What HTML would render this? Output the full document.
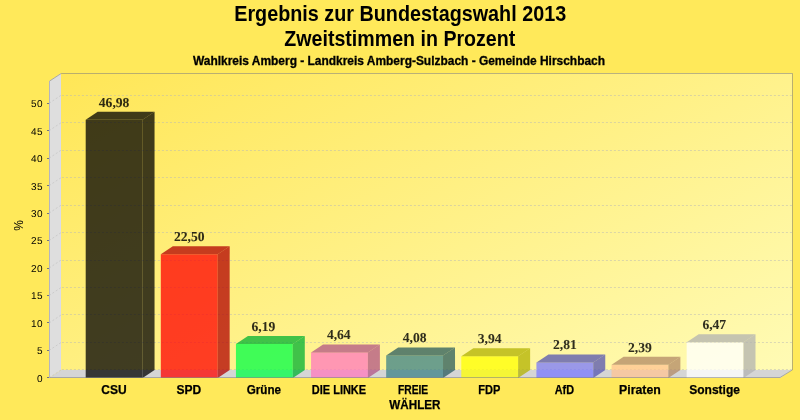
<!DOCTYPE html>
<html><head><meta charset="utf-8"><style>
html,body{margin:0;padding:0;background:#FFE95A;}
svg{display:block;will-change:transform;}
</style></head><body>
<svg width="800" height="420" viewBox="0 0 800 420">
<defs><linearGradient id="pg" gradientUnits="userSpaceOnUse" x1="0" y1="0" x2="342.6" y2="665"><stop offset="0" stop-color="#FFE348"/><stop offset="1" stop-color="#FFFDBE"/></linearGradient></defs>
<rect width="800" height="420" fill="#FFE95A"/>
<g font-family="'Liberation Sans', Arial, sans-serif" font-weight="bold" fill="#000" text-anchor="middle">
<text x="400.2" y="20.6" font-size="21.3px" textLength="332" lengthAdjust="spacingAndGlyphs">Ergebnis zur Bundestagswahl 2013</text>
<text x="399.8" y="45.6" font-size="21.3px" textLength="231" lengthAdjust="spacingAndGlyphs">Zweitstimmen in Prozent</text>
<text x="399" y="64.5" font-size="12px" stroke="#000" stroke-width="0.3" textLength="412" lengthAdjust="spacingAndGlyphs">Wahlkreis Amberg - Landkreis Amberg-Sulzbach - Gemeinde Hirschbach</text>
</g>
<polygon points="49.15,377.9 49.15,81.1 61.15,73.1 792.05,73.1 792.05,369.9 780.05,377.9" fill="url(#pg)"/>
<polygon points="49.15,377.9 49.15,81.1 61,73.19999999999999 61,369.9 " fill="#DEDEDE"/>
<polygon points="49.15,377.9 61.15,369.9 792.05,369.9 780.05,377.9" fill="#D5D5D5"/>
<rect x="60" y="81.10" width="1" height="288.80" fill="#DCDCE6"/>
<g stroke="#B8B8B8" stroke-width="1" fill="none" stroke-dasharray="2 2" stroke-opacity="0.5">
<path d="M49.15,377.90 L61.15,369.90"/>
<path d="M61.15,369.5 L792.05,369.5" stroke-dashoffset="3.25"/>
<path d="M49.15,350.43 L61.15,342.43"/>
<path d="M61.15,342.5 L792.05,342.5" stroke-dashoffset="3.25"/>
<path d="M49.15,322.96 L61.15,314.96"/>
<path d="M61.15,314.5 L792.05,314.5" stroke-dashoffset="3.25"/>
<path d="M49.15,295.50 L61.15,287.50"/>
<path d="M61.15,287.5 L792.05,287.5" stroke-dashoffset="3.25"/>
<path d="M49.15,268.03 L61.15,260.03"/>
<path d="M61.15,260.5 L792.05,260.5" stroke-dashoffset="3.25"/>
<path d="M49.15,240.56 L61.15,232.56"/>
<path d="M61.15,232.5 L792.05,232.5" stroke-dashoffset="3.25"/>
<path d="M49.15,213.09 L61.15,205.09"/>
<path d="M61.15,205.5 L792.05,205.5" stroke-dashoffset="3.25"/>
<path d="M49.15,185.63 L61.15,177.63"/>
<path d="M61.15,177.5 L792.05,177.5" stroke-dashoffset="3.25"/>
<path d="M49.15,158.16 L61.15,150.16"/>
<path d="M61.15,150.5 L792.05,150.5" stroke-dashoffset="3.25"/>
<path d="M49.15,130.69 L61.15,122.69"/>
<path d="M61.15,122.5 L792.05,122.5" stroke-dashoffset="3.25"/>
<path d="M49.15,103.22 L61.15,95.22"/>
<path d="M61.15,95.5 L792.05,95.5" stroke-dashoffset="3.25"/>
</g>
<g stroke="#74747E" stroke-width="1">
<line x1="47" y1="377.5" x2="49" y2="377.5"/>
<line x1="47" y1="350.5" x2="49" y2="350.5"/>
<line x1="47" y1="322.5" x2="49" y2="322.5"/>
<line x1="47" y1="295.5" x2="49" y2="295.5"/>
<line x1="47" y1="268.5" x2="49" y2="268.5"/>
<line x1="47" y1="240.5" x2="49" y2="240.5"/>
<line x1="47" y1="213.5" x2="49" y2="213.5"/>
<line x1="47" y1="185.5" x2="49" y2="185.5"/>
<line x1="47" y1="158.5" x2="49" y2="158.5"/>
<line x1="47" y1="130.5" x2="49" y2="130.5"/>
<line x1="47" y1="103.5" x2="49" y2="103.5"/>
</g>
<g font-family="'Liberation Sans', Arial, sans-serif" font-size="10px" fill="#000" text-anchor="end" letter-spacing="0.44" text-rendering="geometricPrecision">
<text x="42.9" y="382">0</text>
<text x="42.9" y="354">5</text>
<text x="42.9" y="327">10</text>
<text x="42.9" y="299">15</text>
<text x="42.9" y="272">20</text>
<text x="42.9" y="244">25</text>
<text x="42.9" y="217">30</text>
<text x="42.9" y="190">35</text>
<text x="42.9" y="162">40</text>
<text x="42.9" y="135">45</text>
<text x="42.9" y="107">50</text>
</g>
<text transform="translate(22.7,225.5) rotate(-90)" font-family="'Liberation Sans', Arial, sans-serif" font-size="12px" text-anchor="middle">%</text>
<g fill-opacity="0.75">
<rect x="85.695" y="119.813" width="56.848" height="258.087" fill="#000000"/>
<polygon points="142.543,377.900 142.543,119.813 154.543,111.813 154.543,369.900" fill="#000000"/>
<polygon points="85.695,119.813 97.695,111.813 154.543,111.813 142.543,119.813" fill="#000000"/>
</g>
<g fill-opacity="0.75">
<rect x="160.815" y="254.295" width="56.848" height="123.605" fill="#FF0000"/>
<polygon points="217.663,377.900 217.663,254.295 229.663,246.295 229.663,369.900" fill="#B20000"/>
<polygon points="160.815,254.295 172.815,246.295 229.663,246.295 217.663,254.295" fill="#B20000"/>
</g>
<g fill-opacity="0.75">
<rect x="235.936" y="343.895" width="56.848" height="34.005" fill="#00FF46"/>
<polygon points="292.783,377.900 292.783,343.895 304.783,335.895 304.783,369.900" fill="#00B231"/>
<polygon points="235.936,343.895 247.936,335.895 304.783,335.895 292.783,343.895" fill="#00B231"/>
</g>
<g fill-opacity="0.75">
<rect x="311.056" y="352.410" width="56.848" height="25.490" fill="#FF78BE"/>
<polygon points="367.904,377.900 367.904,352.410 379.904,344.410 379.904,369.900" fill="#B25485"/>
<polygon points="311.056,352.410 323.056,344.410 379.904,344.410 367.904,352.410" fill="#B25485"/>
</g>
<g fill-opacity="0.75">
<rect x="386.176" y="355.486" width="56.848" height="22.414" fill="#3C8287"/>
<polygon points="443.024,377.900 443.024,355.486 455.024,347.486 455.024,369.900" fill="#2A5B5E"/>
<polygon points="386.176,355.486 398.176,347.486 455.024,347.486 443.024,355.486" fill="#2A5B5E"/>
</g>
<g fill-opacity="0.75">
<rect x="461.296" y="356.255" width="56.848" height="21.645" fill="#FFFF00"/>
<polygon points="518.144,377.900 518.144,356.255 530.144,348.255 530.144,369.900" fill="#B2B200"/>
<polygon points="461.296,356.255 473.296,348.255 530.144,348.255 518.144,356.255" fill="#B2B200"/>
</g>
<g fill-opacity="0.75">
<rect x="536.417" y="362.463" width="56.848" height="15.437" fill="#7878FF"/>
<polygon points="593.264,377.900 593.264,362.463 605.264,354.463 605.264,369.900" fill="#5454B2"/>
<polygon points="536.417,362.463 548.417,354.463 605.264,354.463 593.264,362.463" fill="#5454B2"/>
</g>
<g fill-opacity="0.75">
<rect x="611.537" y="364.770" width="56.848" height="13.130" fill="#FFC391"/>
<polygon points="668.385,377.900 668.385,364.770 680.385,356.770 680.385,369.900" fill="#B28865"/>
<polygon points="611.537,364.770 623.537,356.770 680.385,356.770 668.385,364.770" fill="#B28865"/>
</g>
<g fill-opacity="0.75">
<rect x="686.657" y="342.357" width="56.848" height="35.543" fill="#FFFFFF"/>
<polygon points="743.505,377.900 743.505,342.357 755.505,334.357 755.505,369.900" fill="#B2B2B2"/>
<polygon points="686.657,342.357 698.657,334.357 755.505,334.357 743.505,342.357" fill="#B2B2B2"/>
</g>
<g stroke="#808080" stroke-opacity="0.55" stroke-width="1" fill="none">
<path d="M49.5,377.5 L49.5,81.1 L61.15,73.5 L792.5,73.5 L792.5,369.9 L780.05,377.5 Z"/>
</g>
<line x1="49.5" y1="81.1" x2="49.5" y2="377.5" stroke="#B4B4BE" stroke-width="1"/>
<g font-family="'Liberation Serif', 'Times New Roman', serif" font-weight="bold" font-size="13.6px" fill="#000" fill-opacity="0.82" stroke="#000" stroke-opacity="0.3" stroke-width="0.2" text-anchor="middle" text-rendering="geometricPrecision">
<text x="114.12" y="107">46,98</text>
<text x="189.24" y="241">22,50</text>
<text x="263.36" y="331">6,19</text>
<text x="338.78" y="339">4,64</text>
<text x="414.60" y="342">4,08</text>
<text x="489.72" y="343">3,94</text>
<text x="564.84" y="349">2,81</text>
<text x="639.96" y="352">2,39</text>
<text x="714.28" y="329">6,47</text>
</g>
<g font-family="'Liberation Sans', Arial, sans-serif" font-weight="bold" font-size="12px" fill="#000" stroke="#000" stroke-width="0.25" text-anchor="middle">
<text x="113.92" y="393.60">CSU</text>
<text x="188.74" y="393.60">SPD</text>
<text x="263.86" y="393.60" textLength="34.3" lengthAdjust="spacingAndGlyphs">Grüne</text>
<text x="338.98" y="393.60" textLength="54.3" lengthAdjust="spacingAndGlyphs">DIE LINKE</text>
<text x="413.10" y="393.60" textLength="30.3" lengthAdjust="spacingAndGlyphs">FREIE</text>
<text x="414.90" y="408.90" textLength="51.2" lengthAdjust="spacingAndGlyphs">WÄHLER</text>
<text x="489.22" y="393.60" textLength="22" lengthAdjust="spacingAndGlyphs">FDP</text>
<text x="564.34" y="393.60" textLength="19.3" lengthAdjust="spacingAndGlyphs">AfD</text>
<text x="639.96" y="393.60" textLength="41.7" lengthAdjust="spacingAndGlyphs">Piraten</text>
<text x="714.58" y="393.60">Sonstige</text>
</g>
</svg>
</body></html>
